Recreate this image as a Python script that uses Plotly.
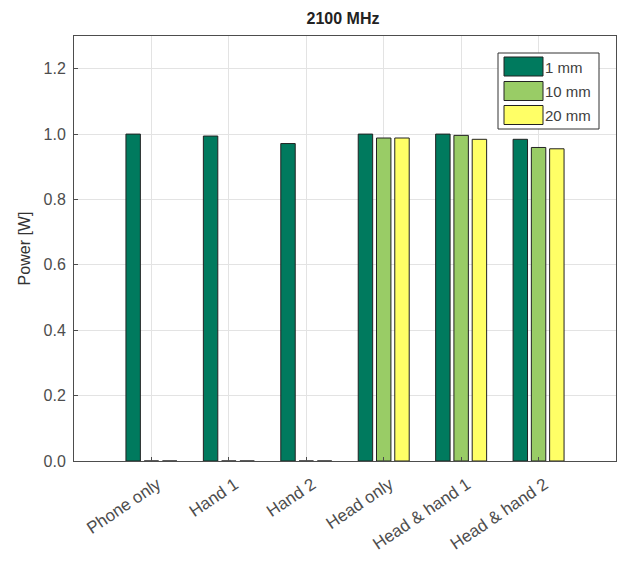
import plotly.graph_objects as go

categories = ["Phone only", "Hand 1", "Hand 2", "Head only", "Head & hand 1", "Head & hand 2"]
series_names = ["1 mm", "10 mm", "20 mm"]
power_1mm = [1.000, 0.994, 0.971, 1.000, 1.000, 0.984]
power_10mm = [0.0, 0.0, 0.0, 0.988, 0.996, 0.959]
power_20mm = [0.0, 0.0, 0.0, 0.988, 0.984, 0.955]
colors = ["#007A5E", "#99CC66", "#FFFF66"]
yticks = [0.0, 0.2, 0.4, 0.6, 0.8, 1.0, 1.2]

W, H = 619, 563
ML, MR, MT, MB = 74, 3, 36, 102
PW, PH = W - ML - MR, H - MT - MB

x = list(range(1, len(categories) + 1))
fig = go.Figure()
for name, vals, col in zip(series_names, [power_1mm, power_10mm, power_20mm], colors):
    fig.add_trace(go.Bar(x=x, y=vals, name=name, showlegend=False,
                         marker=dict(color=col, line=dict(color="#222222", width=1))))

font = "Liberation Sans, Arial, sans-serif"

# custom MATLAB-style legend box, placed in paper (plot-area) coordinates
def px(xp):
    return (xp - ML) / PW

def py(yp):
    return (MT + PH - yp) / PH

shapes = [dict(type="rect", xref="paper", yref="paper", x0=px(498), x1=px(599), y0=py(129), y1=py(53),
               line=dict(color="#333333", width=1), fillcolor="white", layer="above")]
annotations = []
row_tops = [57, 81.5, 105.5]
for name, col, top in zip(series_names, colors, row_tops):
    shapes.append(dict(type="rect", xref="paper", yref="paper", x0=px(504), x1=px(543), y0=py(top + 19), y1=py(top),
                       line=dict(color="#222222", width=1), fillcolor=col, layer="above"))
    annotations.append(dict(text=name, xref="paper", yref="paper", x=px(543), y=py(top + 10),
                            xanchor="left", yanchor="middle", showarrow=False,
                            font=dict(family=font, size=15, color="#404040")))

fig.update_layout(
    width=W, height=H,
    margin=dict(l=ML, r=MR, t=MT, b=MB),
    paper_bgcolor="white", plot_bgcolor="white",
    barmode="group", bargap=0.292, bargroupgap=0.21,
    showlegend=False,
    title=dict(text="<b>2100 MHz</b>", x=px(343), xref="paper", xanchor="center",
               y=1 - 18 / H, yref="container", yanchor="middle",
               font=dict(family=font, size=16, color="#222222")),
    font=dict(family=font, size=16, color="#4D4D4D"),
    xaxis=dict(range=[0, 7], tickvals=x, ticktext=categories, tickangle=-34, automargin=False,
               showgrid=True, gridcolor="#E3E3E3", ticks="inside", ticklen=4, tickcolor="#4D4D4D",
               showline=True, linecolor="#4D4D4D", mirror=True, zeroline=False,
               ticklabelstandoff=6, ticklabelshift=6,
               tickfont=dict(size=17, color="#4D4D4D")),
    yaxis=dict(range=[0, 1.3], tickvals=yticks, tickformat=".1f", automargin=False,
               title=dict(text="Power [W]", font=dict(size=16, color="#333333"), standoff=8),
               showgrid=True, gridcolor="#E3E3E3", ticks="inside", ticklen=4, tickcolor="#4D4D4D",
               showline=True, linecolor="#4D4D4D", mirror=True, zeroline=False,
               ticklabelstandoff=4,
               tickfont=dict(size=16, color="#4D4D4D")),
    shapes=shapes,
    annotations=annotations,
)
fig.write_html("out.html", config={"displayModeBar": False},
               post_script="document.body.style.margin='0px';")
